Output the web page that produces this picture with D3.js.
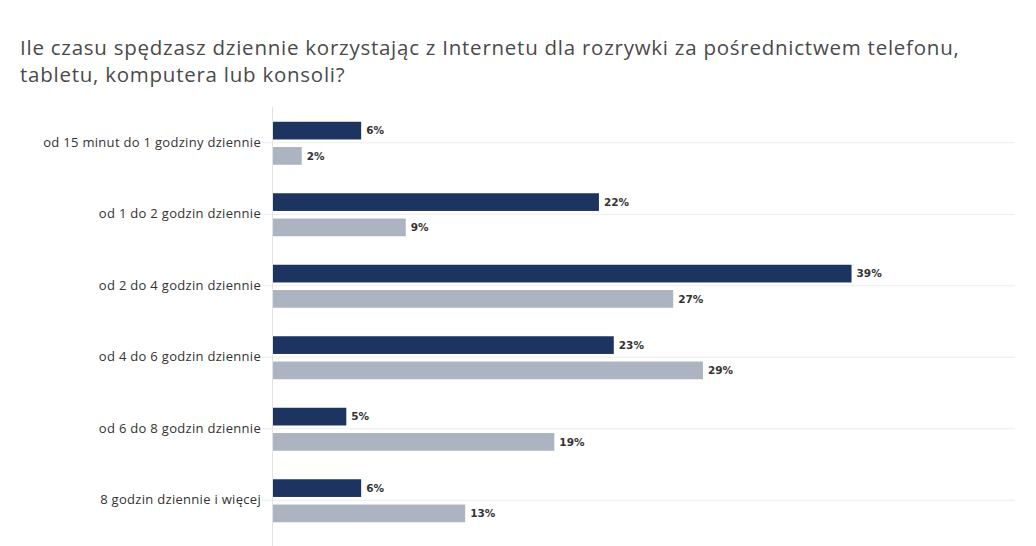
<!DOCTYPE html>
<html>
<head>
<meta charset="utf-8">
<script src="https://cdn.jsdelivr.net/npm/d3@7"></script>
<style>
  html, body { margin: 0; padding: 0; background: #fff; }
  #chart { width: 1036px; height: 546px; }
</style>
</head>
<body>
<div id="chart"></div>
<script>
(function () {
  const titleLines = [
    'Ile czasu spędzasz dziennie korzystając z Internetu dla rozrywki za pośrednictwem telefonu,',
    'tabletu, komputera lub konsoli?'
  ];

  const categories = [
    'od 15 minut do 1 godziny dziennie',
    'od 1 do 2 godzin dziennie',
    'od 2 do 4 godzin dziennie',
    'od 4 do 6 godzin dziennie',
    'od 6 do 8 godzin dziennie',
    '8 godzin dziennie i więcej'
  ];
  const seriesNames = ['A', 'B'];
  const seriesA = [6, 22, 39, 23, 5, 6];
  const seriesB = [2, 9, 27, 29, 19, 13];

  const color = d3.scaleOrdinal().domain(seriesNames).range(['#1e3460', '#abb4c0']);

  const width = 1036;
  const height = 546;

  const svg = d3.select('#chart').append('svg')
    .attr('width', width)
    .attr('height', height)
    .style('display', 'block');

  // Title
  svg.append('g').selectAll('text')
    .data(titleLines)
    .enter()
    .append('text')
    .attr('x', 20)
    .attr('y', (d, i) => 55 + i * 27)
    .attr('font-family', 'Open Sans, sans-serif')
    .attr('font-size', 20.5)
    .attr('letter-spacing', 0.75)
    .attr('fill', '#4a4a4a')
    .text(d => d);

  // Scales
  const x = d3.scaleLinear().domain([0, 50]).range([272, 1015]);
  const y = d3.scaleBand().domain(categories).range([107, 536]);
  const sub = d3.scaleBand().domain(seriesNames).range([-21, 22]).paddingInner(0.3);

  const rows = categories.map((c, i) => ({ cat: c, values: [
    { s: 'A', v: seriesA[i] },
    { s: 'B', v: seriesB[i] }
  ] }));

  // Gridlines at category centers
  svg.append('g').selectAll('line')
    .data(categories)
    .enter()
    .append('line')
    .attr('x1', 262)
    .attr('x2', x.range()[1])
    .attr('y1', d => y(d) + y.bandwidth() / 2)
    .attr('y2', d => y(d) + y.bandwidth() / 2)
    .attr('stroke', '#ececec')
    .attr('stroke-width', 1);

  // Axis line
  svg.append('line')
    .attr('x1', x(0) + 0.5)
    .attr('x2', x(0) + 0.5)
    .attr('y1', 107)
    .attr('y2', height)
    .attr('stroke', '#e3e3e3');

  // Category labels
  svg.append('g').selectAll('text')
    .data(categories)
    .enter()
    .append('text')
    .attr('x', 261)
    .attr('y', d => y(d) + y.bandwidth() / 2)
    .attr('dy', '0.32em')
    .attr('text-anchor', 'end')
    .attr('font-family', 'Open Sans, sans-serif')
    .attr('font-size', 13)
    .attr('letter-spacing', 0.3)
    .attr('fill', '#333')
    .text(d => d);

  // Bars
  const groups = svg.append('g').selectAll('g')
    .data(rows)
    .enter()
    .append('g')
    .attr('transform', d => `translate(0,${y(d.cat) + y.bandwidth() / 2})`);

  groups.selectAll('rect')
    .data(d => d.values)
    .enter()
    .append('rect')
    .attr('x', x(0) + 1)
    .attr('y', d => sub(d.s))
    .attr('width', d => x(d.v) - x(0) - 1)
    .attr('height', sub.bandwidth())
    .attr('fill', d => color(d.s));

  groups.selectAll('text')
    .data(d => d.values)
    .enter()
    .append('text')
    .attr('x', d => x(d.v) + 5)
    .attr('y', d => sub(d.s) + sub.bandwidth() / 2)
    .attr('dy', '0.35em')
    .attr('font-family', 'DejaVu Sans, sans-serif')
    .attr('font-weight', 'bold')
    .attr('font-size', 10.5)
    .attr('fill', '#333')
    .text(d => d.v + '%');
})();
</script>
</body>
</html>
